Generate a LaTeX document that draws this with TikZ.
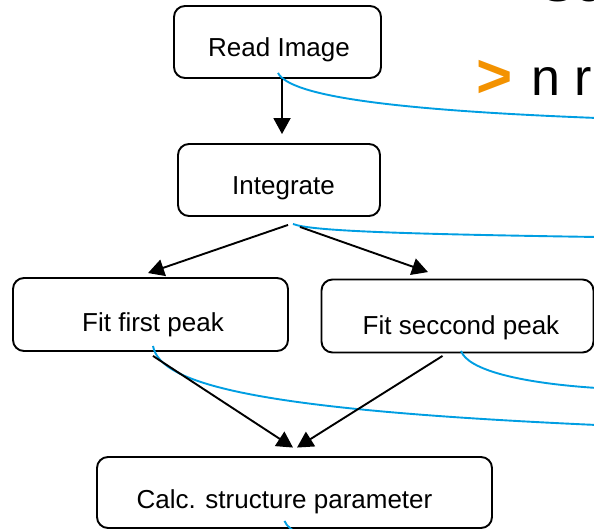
\documentclass[tikz,border=0pt]{standalone}
\usepackage{fontspec}
\setmainfont{Liberation Sans}
\usetikzlibrary{arrows.meta}
\definecolor{conblue}{RGB}{0,158,226}
\definecolor{accorange}{RGB}{243,146,0}
\begin{document}
\begin{tikzpicture}[x=1pt,y=-1pt,
  box/.style={draw=black, line width=1.9pt, rounded corners=11pt, inner sep=0pt, fill=white},
  lbl/.style={font=\fontsize{26}{31}\selectfont, anchor=base, inner sep=0pt},
  arr/.style={draw=black, line width=1.9pt, -{Triangle[length=16pt,width=17pt]}},
  callout/.style={draw=conblue, line width=1.9pt},
  bigtext/.style={font=\fontsize{52}{60}\selectfont, anchor=base west, inner sep=0pt}]
\useasboundingbox (0,0) rectangle (594,529);
\clip (0,0) rectangle (594,529);

% boxes
\node[box, minimum width=207pt, minimum height=72pt] (read) at (277.5,42) {};
\node[box, minimum width=202pt, minimum height=72pt] (integ) at (279,180) {};
\node[box, minimum width=275pt, minimum height=73pt] (first) at (150.5,314.5) {};
\node[box, minimum width=272pt, minimum height=73pt] (second) at (457.5,316) {};
\node[box, minimum width=395pt, minimum height=71pt] (calc) at (294.5,492.5) {};

% callout ends
\coordinate (c1) at (597,118);
\coordinate (c2) at (597,237);
\coordinate (c3) at (597,425);
\coordinate (c4) at (597,388);
\coordinate (c5) at (300,534);

% blue callout connectors
\draw[callout] ([shift={(0.5,-6)}]read.south) .. controls (290,96) and (390,110) .. (c1);
\draw[callout] ([shift={(14,7)}]integ.south) .. controls (310,231) and (400,234) .. (c2);
\draw[callout] ([shift={(2.5,-6)}]first.south) .. controls (160,385) and (260,410) .. (c3);
\draw[callout] ([shift={(3.5,-2.5)}]second.south) .. controls (468,370) and (520,383) .. (c4);
\draw[callout] ([shift={(-10,-8)}]calc.south) .. controls (287,527) and (292,530) .. (c5);

% arrows
\draw[arr] ([xshift=4.5pt]read.south) -- ([shift={(3,-9)}]integ.north);
\draw[arr] ([shift={(9,8)}]integ.south) -- ([shift={(-2.5,-4)}]first.north);
\draw[arr] ([shift={(21,10)}]integ.south) -- ([shift={(-29.5,-6.5)}]second.north);
\draw[arr] ([shift={(2.5,4)}]first.south) -- ([shift={(-1.5,-8.5)}]calc.north);
\draw[arr] ([shift={(-15,2.5)}]second.south) -- ([shift={(2.5,-8.5)}]calc.north);

% labels
\node[lbl] (readT) at (279,57) {Read Image};
\node[lbl] (integT) at (283.5,194.5) {Integrate};
\node[lbl] (firstT) at (153,331) {Fit first peak};
\node[lbl] (secondT) at (461,334.5) {Fit seccond peak};
\node[lbl] (calcT) at (284.5,508) {Calc. structure parameter};

% top-right slide text (cut off at the top edge, as in the reference)
\node[bigtext] (topT) at (540,2) {Se};
\node[font=\bfseries\fontsize{62}{70}\selectfont, text=accorange, anchor=center, inner sep=0pt] (chev) at (494.5,79) {>};
\node[bigtext] (nr) at (531,95.5) {n r};
\end{tikzpicture}
\end{document}
